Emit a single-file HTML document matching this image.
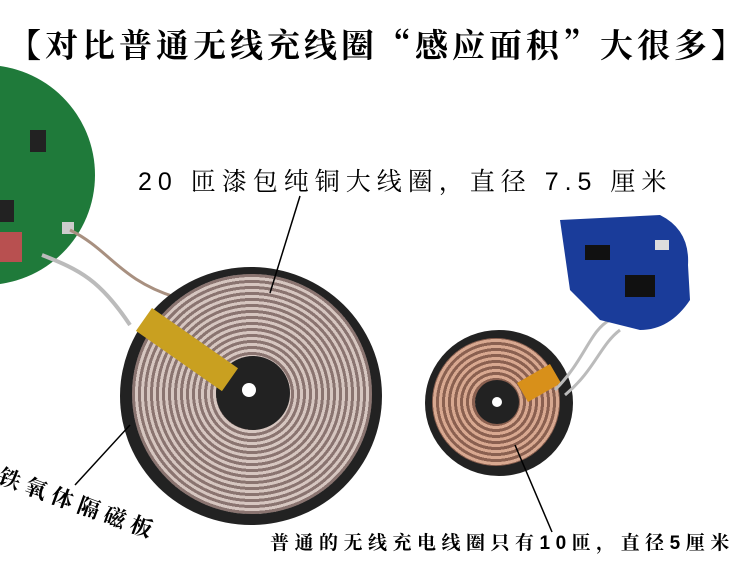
<!DOCTYPE html>
<html><head><meta charset="utf-8"><style>
body{margin:0;width:750px;height:563px;background:#fff;overflow:hidden;position:relative;font-family:"Liberation Sans","Noto Sans CJK SC",sans-serif}
.a{position:absolute}
.coil{border-radius:50%;position:absolute}
</style></head><body>
<div class="a" style="left:8px;top:20px;font-size:33px;font-weight:bold;color:#000;white-space:nowrap;letter-spacing:4px;font-family:'Noto Serif CJK SC','Noto Sans CJK SC',sans-serif">【对比普通无线充线圈“感应面积”大很多】</div>

<!-- green pcb -->
<div class="coil" style="left:-125px;top:65px;width:220px;height:220px;background:#1f7a3a"></div>
<div class="a" style="left:30px;top:130px;width:16px;height:22px;background:#222"></div>
<div class="a" style="left:0px;top:200px;width:14px;height:22px;background:#222"></div>
<div class="a" style="left:0px;top:232px;width:22px;height:30px;background:#b85050"></div>
<div class="a" style="left:62px;top:222px;width:12px;height:12px;background:#ccc"></div>

<svg class="a" style="left:0;top:0" width="750" height="563">
<path d="M70 230 C110 250,120 280,175 297" stroke="#a89080" stroke-width="3" fill="none"/>
<path d="M42 255 C80 270,100 280,130 325" stroke="#bbb" stroke-width="4" fill="none"/>
</svg>

<!-- big coil -->
<div class="coil" style="left:120px;top:267px;width:262px;height:258px;background:#222"></div>
<div class="coil" style="left:132px;top:274px;width:240px;height:240px;background:repeating-radial-gradient(circle,#d6c6c0 0 3px,#8a7470 3px 6px)"></div>
<div class="coil" style="left:216px;top:356px;width:74px;height:74px;background:#222"></div>
<div class="coil" style="left:242px;top:383px;width:14px;height:14px;background:#fff"></div>
<div class="a" style="left:152px;top:308px;width:105px;height:28px;background:#c9a020;transform:rotate(35deg);transform-origin:0 0"></div>

<!-- small coil -->
<div class="coil" style="left:425px;top:330px;width:148px;height:146px;background:#222"></div>
<div class="coil" style="left:432px;top:338px;width:128px;height:128px;background:repeating-radial-gradient(circle,#d8a890 0 3px,#8a6050 3px 6px)"></div>
<div class="coil" style="left:475px;top:380px;width:44px;height:44px;background:#222"></div>
<div class="coil" style="left:492px;top:397px;width:10px;height:10px;background:#fff"></div>
<div class="a" style="left:520px;top:372px;width:38px;height:22px;background:#d8901a;transform:rotate(-30deg)"></div>
<svg class="a" style="left:0;top:0" width="750" height="563">
<path d="M555 390 C585 360,590 330,610 320" stroke="#bbb" stroke-width="3" fill="none"/>
<path d="M565 395 C595 370,600 345,620 330" stroke="#bbb" stroke-width="3" fill="none"/>
<path d="M560 220 L660 215 Q690 230 688 265 L690 300 Q670 330 640 330 L600 320 L570 290 Z" fill="#1a3c9a"/>
<rect x="585" y="245" width="25" height="15" fill="#111"/><rect x="625" y="275" width="30" height="22" fill="#111"/>
<rect x="655" y="240" width="14" height="10" fill="#ddd"/>
<line x1="300" y1="196" x2="270" y2="293" stroke="#000" stroke-width="1.5"/>
<line x1="75" y1="485" x2="130" y2="425" stroke="#000" stroke-width="1.5"/>
<line x1="515" y1="445" x2="552" y2="532" stroke="#000" stroke-width="1.5"/>
</svg>

<div class="a" style="left:138px;top:162px;font-size:25px;white-space:nowrap;letter-spacing:6px;font-family:'Liberation Sans','Noto Serif CJK SC',sans-serif">20 匝漆包纯铜大线圈，直径 7.5 厘米</div>
<div class="a" style="left:5px;top:460px;font-size:22px;white-space:nowrap;transform:rotate(20deg);transform-origin:0 0;letter-spacing:6px;font-weight:bold;font-family:'Noto Serif CJK SC',sans-serif">铁氧体隔磁板</div>
<div class="a" style="left:270px;top:528px;font-size:19px;white-space:nowrap;letter-spacing:5.5px;font-weight:bold;font-family:'Liberation Sans','Noto Serif CJK SC',sans-serif">普通的无线充电线圈只有10匝，直径5厘米</div>
</body></html>
